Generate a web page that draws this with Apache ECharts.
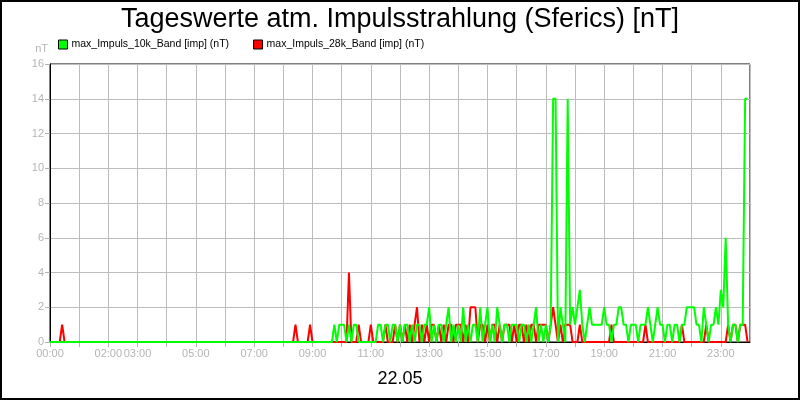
<!DOCTYPE html>
<html><head><meta charset="utf-8">
<script src="https://cdn.jsdelivr.net/npm/echarts@6/dist/echarts.min.js"></script>
<style>html,body{margin:0;padding:0;background:#fff}#c{width:800px;height:400px}</style>
</head><body><div id="c"></div>
<script>
// 5-minute samples, one row per hour (00:00 .. 23:55)
const green10k = [
  0,0,0,0,0,0,0,0,0,0,0,0, 0,0,0,0,0,0,0,0,0,0,0,0, 0,0,0,0,0,0,0,0,0,0,0,0,
  0,0,0,0,0,0,0,0,0,0,0,0, 0,0,0,0,0,0,0,0,0,0,0,0, 0,0,0,0,0,0,0,0,0,0,0,0,
  0,0,0,0,0,0,0,0,0,0,0,0, 0,0,0,0,0,0,0,0,0,0,0,0, 0,0,0,0,0,0,0,0,0,0,0,0,
  0,0,0,0,0,0,0,0,0,1,0,1,
  1,1,0,1,0,1,1,0,0,0,0,0,
  0,0,0,1,1,0,1,1,0,1,1,0,
  1,0,1,1,0,1,0,1,1,0,1,1,
  2,0,1,0,1,1,0,1,2,0,1,0,
  1,0,2,0,1,0,1,1,0,2,0,1,
  2,0,1,0,2,1,0,1,1,0,1,1,
  1,0,1,1,0,1,0,1,2,0,1,0,
  1,0,1,14,14,0,2,1,0,14,1,2,
  1,2,3,1,0,1,2,1,1,1,1,1,
  2,1,1,0,1,1,2,2,1,1,0,1,
  1,1,0,1,1,1,2,1,0,1,2,1,
  1,0,1,1,0,1,1,0,1,1,2,2,
  2,2,1,1,0,2,1,0,1,1,2,1,
  3,2,6,1,0,1,1,0,1,1,14,14
];
const red28k = [
  0,0,0,0,0,1,0,0,0,0,0,0,
  0,0,0,0,0,0,0,0,0,0,0,0, 0,0,0,0,0,0,0,0,0,0,0,0, 0,0,0,0,0,0,0,0,0,0,0,0,
  0,0,0,0,0,0,0,0,0,0,0,0, 0,0,0,0,0,0,0,0,0,0,0,0, 0,0,0,0,0,0,0,0,0,0,0,0,
  0,0,0,0,0,0,0,0,0,0,0,0,
  0,0,0,0,0,1,0,0,0,0,0,1,
  0,0,0,0,0,0,0,0,0,0,0,0,
  0,0,0,4,0,0,0,1,0,0,0,0,
  1,0,0,0,0,0,1,0,0,0,1,0,
  1,0,1,0,1,0,1,2,0,1,0,1,
  0,1,1,0,1,0,1,0,1,1,0,1,
  1,1,0,1,0,2,2,2,0,1,1,0,
  1,0,1,1,0,1,0,1,1,1,0,1,
  0,1,1,0,1,0,1,1,0,1,1,1,
  1,0,1,2,1,0,1,0,1,1,1,0,
  0,0,1,0,0,0,0,0,0,0,0,0,
  0,0,0,1,0,0,0,0,0,0,0,0,
  0,0,0,0,0,1,0,0,0,0,0,0,
  0,0,0,0,0,0,0,0,1,0,0,0,
  0,0,0,0,0,0,1,0,0,0,0,0,
  0,0,0,1,0,1,1,0,1,1,1,0
];
const stepMinutes = 5;
const xTickLabels = ['00:00','02:00','03:00','05:00','07:00','09:00','11:00','13:00','15:00','17:00','19:00','21:00','23:00'];
const seriesNames = ['max_Impuls_10k_Band [imp] (nT)','max_Impuls_28k_Band [imp] (nT)'];
const titleText = 'Tageswerte atm. Impulsstrahlung (Sferics) [nT]';
const dateText = '22.05';

const toPairs = arr => arr.map((v,i)=>[i*stepMinutes, v]);
const gray = '#b4b4b4';
const font = 'Liberation Sans, Arial, sans-serif';

const chart = echarts.init(document.getElementById('c'), null, {renderer:'canvas'});
chart.setOption({
  animation:false,
  backgroundColor:'#fff',
  textStyle:{fontFamily:font},
  title:{text:titleText,left:'center',top:1,textStyle:{fontFamily:font,fontSize:27,fontWeight:'normal',color:'#000'}},
  legend:{left:58,top:39,padding:0,itemWidth:9,itemHeight:9,itemGap:24,icon:'rect',
    textStyle:{fontFamily:font,fontSize:10.5,color:'#000',padding:[0,0,0,-1]},
    data:[{name:seriesNames[0],itemStyle:{color:'#00ff00',borderColor:'#000',borderWidth:1}},
          {name:seriesNames[1],itemStyle:{color:'#ff0000',borderColor:'#000',borderWidth:1}}]},
  grid:{left:50,right:50,top:64,bottom:58,show:true,borderColor:'#000',borderWidth:1,backgroundColor:'#fff'},
  xAxis:{type:'value',min:0,max:1440,interval:60,
    name:dateText,nameLocation:'middle',nameGap:28,nameTextStyle:{fontFamily:font,fontSize:18,color:'#000'},
    axisLine:{show:true,lineStyle:{color:'#000',width:1}},
    axisTick:{show:true,length:5,lineStyle:{color:gray}},
    splitLine:{show:true,lineStyle:{color:'#bdbdbd',width:1}},
    axisLabel:{color:gray,fontSize:11,fontFamily:font,margin:6,showMaxLabel:false,
      formatter:v=>{const h=Math.round(v/60);const s=(h<10?'0':'')+h+':00';return xTickLabels.indexOf(s)>=0?s:'';}}},
  yAxis:{type:'value',min:0,max:16,interval:2,
    name:'nT',nameLocation:'end',nameGap:10,nameTextStyle:{color:gray,fontSize:11,fontFamily:font,align:'right',padding:[0,2,0,0]},
    axisLine:{show:true,lineStyle:{color:'#000'}},
    axisTick:{show:true,length:5,lineStyle:{color:gray}},
    splitLine:{show:true,lineStyle:{color:'#bdbdbd',width:1}},
    axisLabel:{color:gray,fontSize:11,fontFamily:font,margin:6}},
  graphic:[{type:'rect',shape:{x:1,y:1,width:798,height:398},style:{fill:null,stroke:'#000',lineWidth:2},silent:true}],
  series:[
    {name:seriesNames[0],type:'line',data:toPairs(green10k),showSymbol:false,z:3,
      lineStyle:{color:'#00ff00',width:2},itemStyle:{color:'#00ff00'}},
    {name:seriesNames[1],type:'line',data:toPairs(red28k),showSymbol:false,z:2,
      lineStyle:{color:'#ff0000',width:2},itemStyle:{color:'#ff0000'}}
  ]
});
</script></body></html>
